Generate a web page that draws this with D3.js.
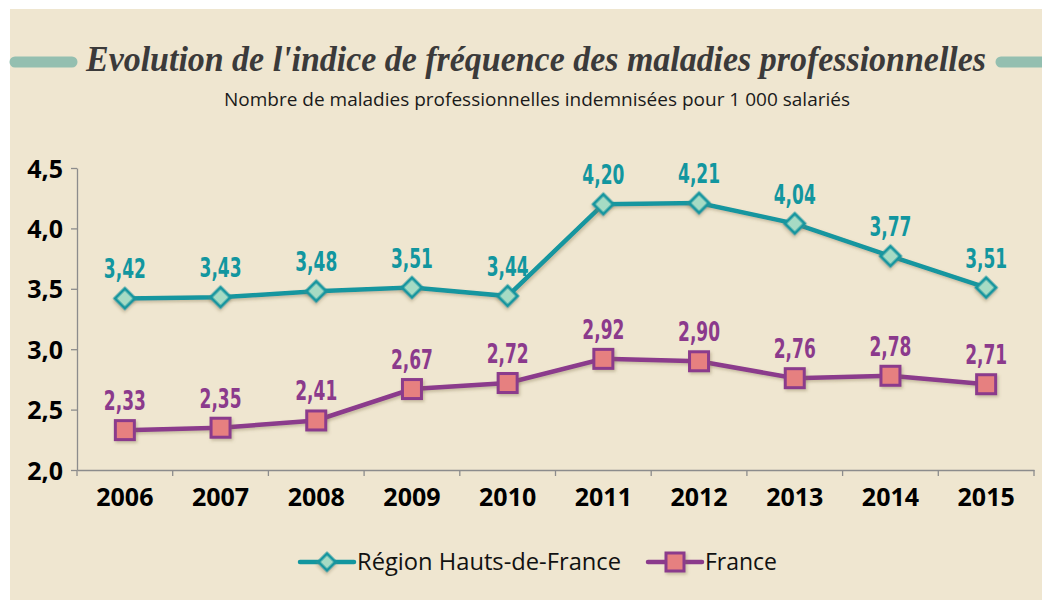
<!DOCTYPE html>
<html>
<head>
<meta charset="utf-8">
<script src="https://cdn.jsdelivr.net/npm/d3@7"></script>
<style>
  body { margin:0; background:#fff; }
  svg { display:block; }
</style>
</head>
<body>
<svg width="1042" height="600"></svg>
<script>
const years = ["2006","2007","2008","2009","2010","2011","2012","2013","2014","2015"]
const region = [3.42,3.43,3.48,3.51,3.44,4.20,4.21,4.04,3.77,3.51]
const france = [2.33,2.35,2.41,2.67,2.72,2.92,2.90,2.76,2.78,2.71]
const yTicks = [2.0,2.5,3.0,3.5,4.0,4.5]
const seriesNames = ["Région Hauts-de-France","France"]

const svg = d3.select("svg")
const teal = "#12969f", purple = "#8b3a8c"
const fmt = v => d3.format(".2f")(v).replace(".", ",")
const fmtTick = v => d3.format(".1f")(v).replace(".", ",")

const defs = svg.append("defs")
const f = defs.append("filter").attr("id","shadow").attr("x","-50%").attr("y","-50%").attr("width","200%").attr("height","200%")
f.append("feDropShadow").attr("dx",1.5).attr("dy",2).attr("stdDeviation",1.5).attr("flood-color","#7a6a40").attr("flood-opacity",0.35)

svg.append("rect").attr("x",10).attr("y",9).attr("width",1032).attr("height",591).attr("fill","#efe6d0")

// title with decorative bars
svg.append("line").attr("x1",15).attr("x2",72).attr("y1",62).attr("y2",62)
    .attr("stroke","#94bfb0").attr("stroke-width",11).attr("stroke-linecap","round")
svg.append("line").attr("x1",1001).attr("x2",1050).attr("y1",62).attr("y2",62)
    .attr("stroke","#94bfb0").attr("stroke-width",11).attr("stroke-linecap","round")
svg.append("text").attr("x",536).attr("y",71).attr("text-anchor","middle")
    .attr("fill","#3b3a3a").style("font-family","'Liberation Serif', serif")
    .style("font-style","italic").style("font-weight","bold").style("font-size","35px")
    .attr("textLength",900).attr("lengthAdjust","spacingAndGlyphs")
    .text("Evolution de l'indice de fréquence des maladies professionnelles")
svg.append("text").attr("x",537).attr("y",106).attr("text-anchor","middle")
    .attr("fill","#1a1a1a").style("font-family","'Open Sans', sans-serif").style("font-size","18px")
    .attr("textLength",626).attr("lengthAdjust","spacingAndGlyphs")
    .text("Nombre de maladies professionnelles indemnisées pour 1 000 salariés")

const x = d3.scaleBand().domain(years).range([77,1034])
const y = d3.scaleLinear().domain([2,4.5]).range([470,168])
const cx = d => x(d) + x.bandwidth()/2

// axes
const yAxis = svg.append("g").attr("transform","translate(77,0)")
    .call(d3.axisLeft(y).tickValues(yTicks).tickFormat(fmtTick).tickSize(6).tickSizeOuter(0))
yAxis.select(".domain").attr("stroke","#8c8c8c").attr("stroke-width",1.3)
yAxis.selectAll(".tick line").attr("stroke","#8c8c8c").attr("stroke-width",1.3)
yAxis.selectAll("text").attr("x",-14).attr("dy","0.36em").attr("fill","#000")
    .style("font-family","'Open Sans', sans-serif").style("font-weight","bold").style("font-size","25px")

const xAxis = svg.append("g").attr("transform","translate(0,470)")
    .call(d3.axisBottom(x).tickSize(0).tickSizeOuter(0))
xAxis.select(".domain").attr("stroke","#8c8c8c").attr("stroke-width",1.3)
xAxis.selectAll("text").attr("y",18).attr("fill","#000")
    .style("font-family","'Open Sans', sans-serif").style("font-weight","bold").style("font-size","25px")
xAxis.selectAll(".sep").data(years.concat(["end"])).enter().append("line")
    .attr("x1",(d,i)=> i < years.length ? x(d) : x.range()[1])
    .attr("x2",(d,i)=> i < years.length ? x(d) : x.range()[1])
    .attr("y1",0).attr("y2",6).attr("stroke","#8c8c8c").attr("stroke-width",1.3)

const line = d3.line().x((d,i)=>cx(years[i])).y(d=>y(d))

function drawSeries(vals, color, shape, fill){
    svg.append("path").datum(vals).attr("d",line).attr("fill","none")
        .attr("stroke",color).attr("stroke-width",4.5).attr("filter","url(#shadow)")
    const g = svg.append("g")
    vals.forEach((v,i)=>{
        const px = cx(years[i]), py = y(v)
        if (shape === "diamond") {
            g.append("rect").attr("x",-7).attr("y",-7).attr("width",14).attr("height",14)
                .attr("transform",`translate(${px},${py}) rotate(45)`)
                .attr("fill",fill).attr("stroke",color).attr("stroke-width",3).attr("filter","url(#shadow)")
        } else {
            g.append("rect").attr("x",px-9.5).attr("y",py-9.5).attr("width",19).attr("height",19)
                .attr("fill",fill).attr("stroke",color).attr("stroke-width",3).attr("filter","url(#shadow)")
        }
        g.append("text").attr("x",px).attr("y",py-20).attr("text-anchor","middle")
            .attr("fill",color).style("font-family","'DejaVu Sans Condensed', sans-serif")
            .style("font-weight","bold").style("font-size","26px")
            .attr("textLength",42).attr("lengthAdjust","spacingAndGlyphs")
            .text(fmt(v))
    })
}
drawSeries(region, teal, "diamond", "#a6dbc4")
drawSeries(france, purple, "square", "#e68080")

// legend
const leg = svg.append("g")
const legItems = [
    {name:seriesNames[0], color:teal, shape:"diamond", fill:"#a6dbc4", x0:300, w:264},
    {name:seriesNames[1], color:purple, shape:"square", fill:"#e68080", x0:648, w:72}
]
legItems.forEach(d=>{
    leg.append("line").attr("x1",d.x0).attr("x2",d.x0+54).attr("y1",562).attr("y2",562)
        .attr("stroke",d.color).attr("stroke-width",4.5).attr("stroke-linecap","round")
    if (d.shape === "diamond") {
        leg.append("rect").attr("x",-6).attr("y",-6).attr("width",12).attr("height",12)
            .attr("transform",`translate(${d.x0+27},562) rotate(45)`)
            .attr("fill",d.fill).attr("stroke",d.color).attr("stroke-width",3).attr("filter","url(#shadow)")
    } else {
        leg.append("rect").attr("x",d.x0+18).attr("y",553).attr("width",18).attr("height",18)
            .attr("fill",d.fill).attr("stroke",d.color).attr("stroke-width",3).attr("filter","url(#shadow)")
    }
    leg.append("text").attr("x",d.x0+57).attr("y",570).attr("fill","#111")
        .style("font-family","'Open Sans', sans-serif").style("font-size","23px")
        .attr("textLength",d.w).attr("lengthAdjust","spacingAndGlyphs").text(d.name)
})
</script>
</body>
</html>
